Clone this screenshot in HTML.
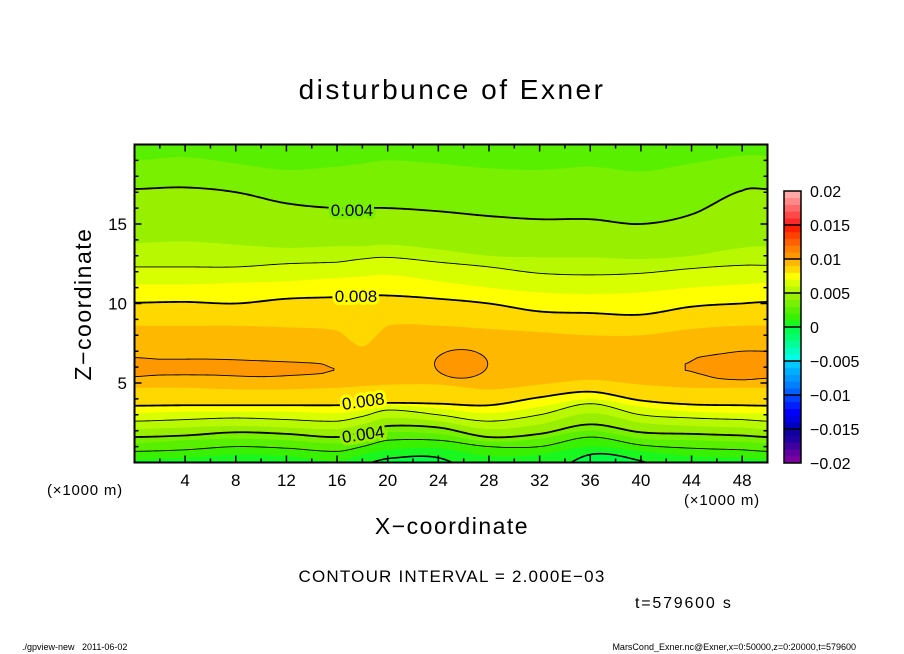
<!DOCTYPE html>
<html><head><meta charset="utf-8"><style>
body{margin:0;background:#fff;}
svg{display:block;font-family:"Liberation Sans",sans-serif;}
</style></head><body>
<svg id="c" width="904" height="654" viewBox="0 0 904 654"></svg>
<script>
// ---- data ----
const xs = [0,4,8,12,16,18,20,24,28,32,36,40,44,48,50];
const levels = [0,1,2,3,4,5,6,7,8,9];
const bandColors = ["#18f820","#38f000","#58f000","#78f000","#98f000","#b8f800","#d8ff00","#ffff00","#ffd800","#ffb800"];
const baseColor = "#00ff40";
const up0 = [21,21,21,21,21,21,21,21,21,21,21,21,21,21,21];
const lo0 = [-1,-1,-1,-1,-1,-0.2,0.25,0.3,-1,-1,0.5,0.1,-1,-1,-1];
const up1 = [21,21,21,21,21,21,21,21,21,21,21,21,21,21,21];
const lo1 = [0.2,0.3,0.5,0.4,0.1,0.5,0.8,0.9,0.4,0.5,1.0,0.7,0.4,0.3,0.2];
const up2 = [21,21,21,21,21,21,21,21,21,21,21,21,21,21,21];
const lo2 = [0.7,0.8,1.0,0.9,0.7,1.0,1.4,1.4,1.0,1.0,1.6,1.1,0.9,0.8,0.7];
const up3 = [19.0,19.2,18.8,18.4,18.6,18.8,19.0,18.8,18.5,18.4,18.6,18.3,18.8,19.3,19.3];
const lo3 = [1.2,1.4,1.5,1.4,1.2,1.5,1.9,1.8,1.3,1.5,2.0,1.5,1.4,1.3,1.2];
const up4 = [17.2,17.3,17.0,16.3,16.0,16.0,16.0,15.8,15.5,15.3,15.3,15.0,15.6,17.1,17.2];
const lo4 = [1.6,1.7,1.9,1.8,1.6,1.9,2.3,2.2,1.6,1.8,2.4,1.9,1.8,1.7,1.6];
const up5 = [13.8,13.9,13.7,13.5,13.6,13.6,13.7,13.4,13.0,12.9,12.9,12.8,13.0,13.5,13.6];
const lo5 = [2.1,2.2,2.3,2.2,2.1,2.4,2.8,2.6,2.1,2.4,3.1,2.5,2.3,2.2,2.1];
const up6 = [12.3,12.3,12.3,12.5,12.6,12.8,12.9,12.6,12.3,11.9,11.8,11.9,12.2,12.4,12.4];
const lo6 = [2.6,2.7,2.8,2.7,2.6,2.9,3.3,3.0,2.6,3.0,3.7,3.0,2.8,2.7,2.6];
const up7 = [11.2,11.2,11.3,11.4,11.6,11.7,11.8,11.4,11.0,10.7,10.6,10.7,11.0,11.2,11.3];
const lo7 = [3.1,3.2,3.2,3.2,3.1,3.3,3.6,3.4,3.1,3.5,4.0,3.5,3.2,3.1,3.1];
const up8 = [10.05,10.1,10.0,10.3,10.4,10.5,10.5,10.3,10.0,9.5,9.4,9.3,9.8,10.0,10.1];
const lo8 = [3.57,3.6,3.6,3.6,3.6,3.65,3.75,3.7,3.6,4.1,4.45,3.9,3.65,3.6,3.57];
const up9 = [8.6,8.6,8.6,8.5,8.3,7.3,8.6,8.6,8.4,8.2,8.0,8.0,8.4,8.6,8.6];
const lo9 = [4.7,4.7,4.6,4.6,4.7,4.8,4.9,4.9,4.6,4.9,5.2,4.9,4.7,4.7,4.7];
const uppers = [up0,up1,up2,up3,up4,up5,up6,up7,up8,up9];
const lowers = [lo0,lo1,lo2,lo3,lo4,lo5,lo6,lo7,lo8,lo9];
const lineWidths = [1.6,0,0.9,0,1.8,0,0.9,0,1.8,0];
const blobColor = "#ff9800";
const blobLX = [0,2,6,10,13,14.8,15.8];
const blobLTop = [6.6,6.5,6.5,6.4,6.3,6.2,5.9];
const blobLBot = [5.4,5.5,5.5,5.4,5.5,5.6,5.8];
const blobRX = [43.5,44.5,46,48,50];
const blobRTop = [6.2,6.6,6.8,7.0,7.0];
const blobRBot = [5.8,5.6,5.3,5.2,5.3];
const blobC = [25.8,6.2,2.1,0.9];
const xTicks = [4,8,12,16,20,24,28,32,36,40,44,48];
const yTicks = [5,10,15];
const cbLabels = ["0.02","0.015","0.01","0.005","0","\u22120.005","\u22120.01","\u22120.015","\u22120.02"];
const cbColors = ["#7a00a0","#6000a0","#4000a0","#2000a0","#1000a0",
 "#0000c0","#0000e0","#0000ff","#0020ff","#0040ff",
 "#0060ff","#0080ff","#0098ff","#00b0ff","#00c8ff",
 "#00ffe8","#00ffc0","#00ff98","#00ff70","#00ff50",
 "#18f820","#38f000","#58f000","#78f000","#98f000",
 "#b8f800","#d8ff00","#ffff00","#ffd800","#ffb800",
 "#ff9800","#ff8000","#ff6000","#ff4000","#ff2000",
 "#ff2828","#ff4848","#ff6868","#ff8888","#ffa8a8"];

const X0=134.5,X1=767.5,Y0=462.5,Y1=144.5;
const sx=x=>X0+(x-0)/(50-0)*(X1-X0);
const sy=z=>Y0-(z-0)/(20-0)*(Y0-Y1);
const NS="http://www.w3.org/2000/svg";
const svg=document.getElementById('c');
function mk(tag,attrs,parent){const e=document.createElementNS(NS,tag);for(const k in attrs)e.setAttribute(k,attrs[k]);(parent||svg).appendChild(e);return e;}
function interp(X,Y,x){
  let i=0;while(i<X.length-2&&x>X[i+1])i++;
  const t=(x-X[i])/(X[i+1]-X[i]);
  const p0=Y[Math.max(i-1,0)],p1=Y[i],p2=Y[i+1],p3=Y[Math.min(i+2,Y.length-1)];
  const t2=t*t,t3=t2*t;
  return 0.5*((2*p1)+(-p0+p2)*t+(2*p0-5*p1+4*p2-p3)*t2+(-p0+3*p1-3*p2+p3)*t3);
}
function curvePts(X,Y){const pts=[];const a=X[0],b=X[X.length-1];for(let x=a;x<=b+1e-9;x+=0.25)pts.push([sx(x),sy(interp(X,Y,Math.min(x,b)))]);return pts;}
const clip=mk('clipPath',{id:'pc'});mk('rect',{x:X0,y:Y1,width:X1-X0,height:Y0-Y1},clip);
const g=mk('g',{'clip-path':'url(#pc)'});


const bg=mk('rect',{x:X0,y:Y1,width:X1-X0,height:Y0-Y1,fill:baseColor},g);


levels.forEach((lv,i)=>{
  const u=curvePts(xs,uppers[i]),l=curvePts(xs,lowers[i]).reverse();
  const d='M'+u.map(p=>p.join(',')).join('L')+'L'+l.map(p=>p.join(',')).join('L')+'Z';
  const p=mk('path',{d:d,fill:bandColors[i]},g);
  
  
});
function blob(X,T,B,name){
  const u=curvePts(X,T),l=curvePts(X,B).reverse();
  const d='M'+u.map(p=>p.join(',')).join('L')+'L'+l.map(p=>p.join(',')).join('L')+'Z';
  const p=mk('path',{d:d,fill:blobColor,stroke:'#000','stroke-width':0.9,'stroke-linejoin':'round'},g);
  
  
}
blob(blobLX,blobLTop,blobLBot,'blob-left');
blob(blobRX,blobRTop,blobRBot,'blob-right');
const el=mk('ellipse',{cx:sx(blobC[0]),cy:sy(blobC[1]),rx:sx(blobC[0]+blobC[2])-sx(blobC[0]),ry:sy(blobC[1])-sy(blobC[1]+blobC[3]),fill:blobColor,stroke:'#000','stroke-width':0.9},g);


levels.forEach((lv,i)=>{
  if(!lineWidths[i])return;
  [uppers[i],lowers[i]].forEach((arr,k)=>{
    const pts=curvePts(xs,arr);
    const p=mk('path',{d:'M'+pts.map(p=>p.join(',')).join('L'),fill:'none',stroke:'#000','stroke-width':lineWidths[i]},g);
    
    
  });
});
const labs=[[352,216,0,"0.004","#78f000"],[356,302,0,"0.008","#ffff00"],[364,407,-8,"0.008","#ffff00"],[364,440,-8,"0.004","#98f000"]];
labs.forEach(a=>{
  const t=mk('text',{x:a[0],y:a[1],'font-size':17,'text-anchor':'middle',transform:`rotate(${a[2]} ${a[0]} ${a[1]})`,stroke:a[4],'stroke-width':6,'paint-order':'stroke',fill:'#000'});
  t.textContent=a[3];
  
  
});
const fr=mk('rect',{x:X0,y:Y1,width:X1-X0,height:Y0-Y1,fill:'none',stroke:'#000','stroke-width':2});


let td='';
for(let x=2;x<50;x+=2){const L=(x%4===0)?7:4;td+=`M${sx(x)},${Y0}v${-L}M${sx(x)},${Y1}v${L}`;}
for(let z=1;z<20;z++){const L=(z%5===0)?7:4;td+=`M${X0},${sy(z)}h${L}M${X1},${sy(z)}h${-L}`;}
const tk=mk('path',{d:td,stroke:'#000','stroke-width':1.5,fill:'none'});


xTicks.forEach(v=>{const t=mk('text',{x:sx(v),y:486,'font-size':17,'text-anchor':'middle'});t.textContent=v;

});
yTicks.forEach(v=>{const t=mk('text',{x:127,y:sy(v)+6,'font-size':17,'text-anchor':'end'});t.textContent=v;

});
const CB0=463,CB1=191,cbh=(CB0-CB1)/cbColors.length;
cbColors.forEach((c,i)=>{const r=mk('rect',{x:784,y:CB0-(i+1)*cbh,width:17,height:cbh+0.3,fill:c});

});
let cd='';for(let i=5;i<40;i+=5)cd+=`M784,${CB0-i*cbh}h17`;
const cbl=mk('path',{d:cd,stroke:'#000','stroke-width':1.5});


const cbf=mk('rect',{x:784,y:CB1,width:17,height:CB0-CB1,fill:'none',stroke:'#000','stroke-width':1.5});


cbLabels.forEach((s,i)=>{const t=mk('text',{x:810,y:CB1+i*5*cbh+6,'font-size':16});t.textContent=s;

});
</script>
<div style="position:absolute;left:0;top:0;width:904px;height:654px;pointer-events:none;font-family:'Liberation Sans',sans-serif;">
<div style="position:absolute;left:0;width:904px;top:74px;text-align:center;font-size:28px;letter-spacing:2.5px;">disturbunce of Exner</div>
<div style="position:absolute;left:0;width:904px;top:513px;text-align:center;font-size:23px;letter-spacing:1.5px;">X&minus;coordinate</div>
<div style="position:absolute;left:-17px;top:291px;width:200px;text-align:center;font-size:23px;letter-spacing:1.5px;transform:rotate(-90deg);transform-origin:100px 13px;">Z&minus;coordinate</div>
<div style="position:absolute;left:47px;top:482px;font-size:15px;letter-spacing:0.8px;">(&times;1000 m)</div>
<div style="position:absolute;left:684px;top:492px;font-size:15px;letter-spacing:0.8px;">(&times;1000 m)</div>
<div style="position:absolute;left:0;width:904px;top:567px;text-align:center;font-size:17px;letter-spacing:1.2px;">CONTOUR INTERVAL = 2.000E&minus;03</div>
<div style="position:absolute;left:635px;top:595px;font-size:16px;letter-spacing:1.8px;">t=579600 s</div>
<div style="position:absolute;left:22px;top:642px;font-size:9px;">./gpview-new&nbsp;&nbsp;&nbsp;2011-06-02</div>
<div style="position:absolute;right:48px;top:642px;font-size:9px;">MarsCond_Exner.nc@Exner,x=0:50000,z=0:20000,t=579600</div>
</div>
</body></html>
